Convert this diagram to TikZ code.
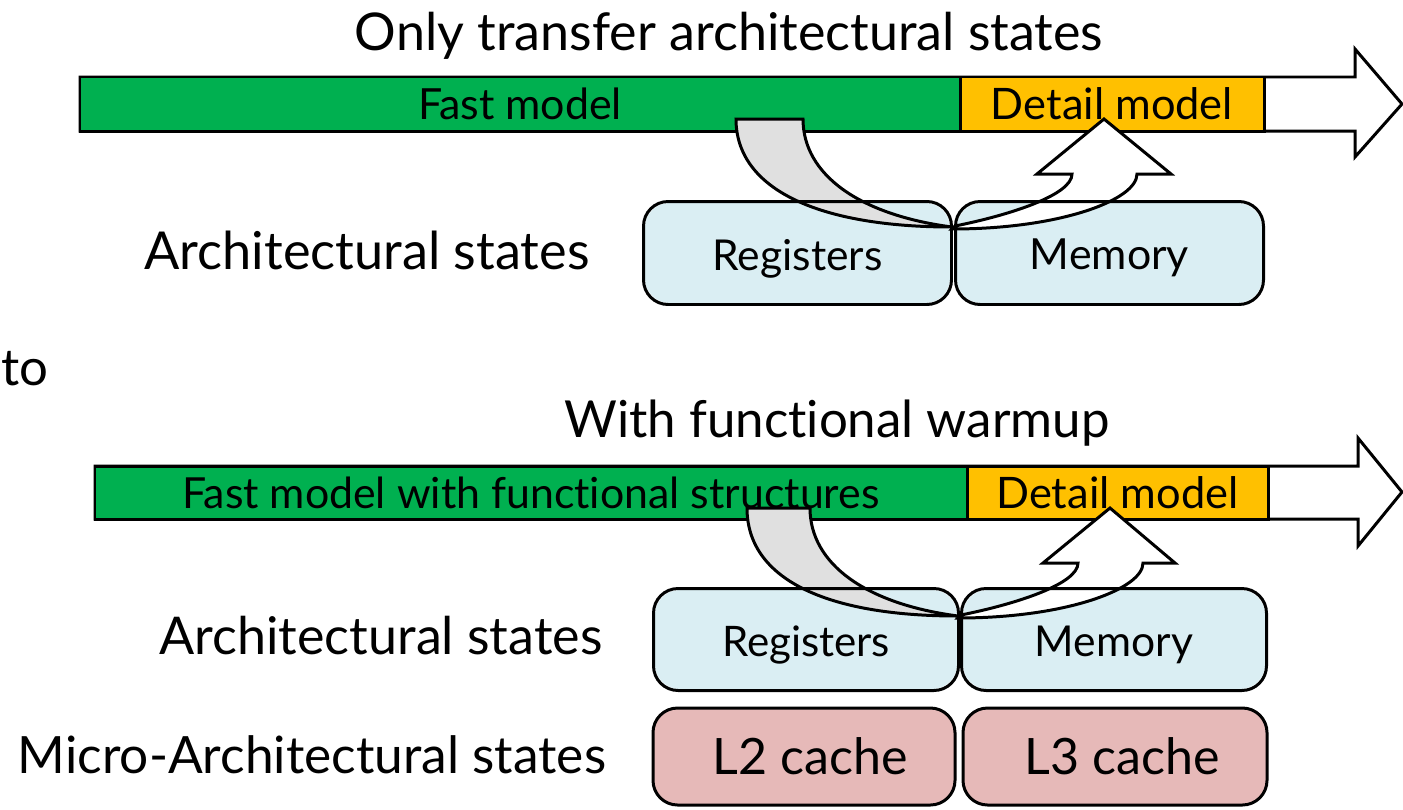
\documentclass[tikz,border=0pt]{standalone}
\usepackage{fontspec}
\setmainfont{Lato}[Ligatures=NoCommon]
\usepackage{graphicx}
\newlength\px
\setlength\px{0.02cm}
% scale a text to a given width (in px units)
\newcommand\fitw[2]{\resizebox{#1\px}{!}{#2}}
\definecolor{fastgreen}{HTML}{00B050}
\definecolor{detailorange}{HTML}{FFC000}
\definecolor{archblue}{HTML}{DAEEF3}
\definecolor{microred}{HTML}{E6B9B8}
\definecolor{backgray}{HTML}{E0E0E0}
\begin{document}
\begin{tikzpicture}[x=0.02cm,y=-0.02cm,line width=1.7pt,line join=miter,
  lbl/.style={inner sep=0pt,anchor=base},
  barbox/.style={draw=black,inner sep=0pt,text depth=0pt},
  statebox/.style={inner sep=0pt,text depth=0pt,rounded corners=14pt},
  stateline/.style={draw=black,rounded corners=14pt},
  backband/.style={draw=black,fill=backgray},
  frontband/.style={draw=black,fill=white}]
\useasboundingbox (0,0) rectangle (1403,809);

% ---------- upper timeline ----------
\node[lbl] (t1) at (729,50) {\fitw{748}{Only transfer architectural states}};
\draw[fill=white] (80,77) -- (1355,77) -- (1355,49) -- (1402,104) -- (1355,157) -- (1355,131) -- (80,131) -- cycle;
\node[barbox,fill=fastgreen,minimum width=880\px,minimum height=54\px] (fast1) at (520,104) {\fitw{204}{Fast model}};
\node[barbox,fill=detailorange,minimum width=304\px,minimum height=54\px] (det1) at (1112,104) {\fitw{242}{Detail model}};

\node[lbl] (arch1) at (367,269) {\fitw{445}{Architectural states}};
\node[statebox,fill=archblue,minimum width=305\px,minimum height=100\px] (reg1) at (797.5,253) {\raisebox{-3\px}{\fitw{170}{Registers}}};
\node[statebox,fill=archblue,minimum width=305\px,minimum height=100\px] (mem1) at (1109.5,253) {\raisebox{-3\px}{\fitw{159}{Memory}}};

% state transfer arrow (back face, then front face)
\begin{scope}
\draw[backband] (736,119) -- (803,119) .. controls (803,175) and (860,215) .. (952,227)
  .. controls (820,227) and (736,190) .. (736,119) -- cycle;
\draw[frontband] (952,229) .. controls (1060,229) and (1137,200) .. (1137,174) -- (1171,174) -- (1104,119)
  -- (1037,174) -- (1072,174) .. controls (1072,195) and (1010,215) .. (955,226) -- cycle;
\end{scope}
\draw[stateline] (reg1.south west) rectangle (reg1.north east);
\draw[stateline] (mem1.south west) rectangle (mem1.north east);

\node[lbl,anchor=base west] (to) at (0,385) {\fitw{47}{to}};

% ---------- lower timeline ----------
\node[lbl] (t2) at (837,437) {\fitw{545}{With functional warmup}};
\draw[fill=white] (95,466) -- (1358,466) -- (1358,438) -- (1402,492) -- (1358,546) -- (1358,519) -- (95,519) -- cycle;
\node[barbox,fill=fastgreen,minimum width=872\px,minimum height=53\px] (fast2) at (531,492.5) {\fitw{697}{Fast model with functional structures}};
\node[barbox,fill=detailorange,minimum width=301\px,minimum height=53\px] (det2) at (1117.5,492.5) {\fitw{242}{Detail model}};

\node[lbl] (arch2) at (381,654) {\fitw{443}{Architectural states}};
\node[statebox,fill=archblue,minimum width=302\px,minimum height=99\px] (reg2) at (806,639.5) {\raisebox{-3\px}{\fitw{168}{Registers}}};
\node[statebox,fill=archblue,minimum width=302\px,minimum height=99\px] (mem2) at (1114,639.5) {\raisebox{-3\px}{\fitw{158}{Memory}}};

\begin{scope}[shift={(6,389)}]
\draw[backband] (741,119) -- (804,119) .. controls (804,175) and (860,215) .. (952,227)
  .. controls (820,227) and (741,190) .. (741,119) -- cycle;
\draw[frontband] (952,229) .. controls (1060,229) and (1137,200) .. (1137,174) -- (1169,174) -- (1104,119)
  -- (1037,174) -- (1072,174) .. controls (1072,195) and (1010,215) .. (955,226) -- cycle;
\end{scope}
\draw[stateline] (reg2.south west) rectangle (reg2.north east);
\draw[stateline] (mem2.south west) rectangle (mem2.north east);

\node[lbl] (micro) at (312,773) {\fitw{588}{Micro-Architectural states}};
\node[statebox,draw=black,fill=microred,minimum width=302\px,minimum height=97\px] (l2) at (804,756.5) {\hspace{12\px}\fitw{195}{L2 cache}};
\node[statebox,draw=black,fill=microred,minimum width=304\px,minimum height=97\px] (l3) at (1115,756.5) {\hspace{14\px}\fitw{195}{L3 cache}};
\end{tikzpicture}
\end{document}
